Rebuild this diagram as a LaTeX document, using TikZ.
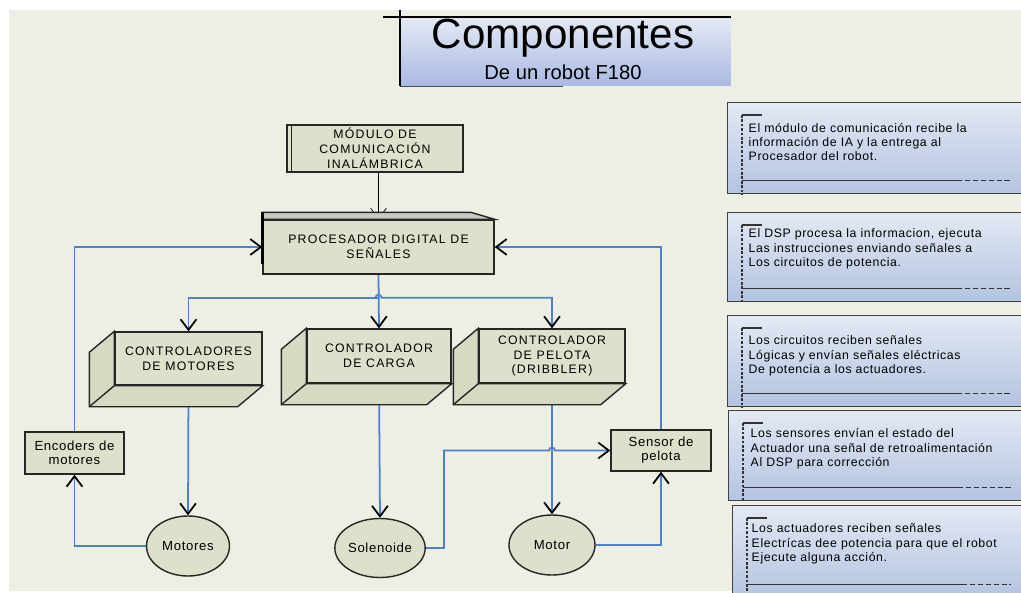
\documentclass[tikz,border=0pt]{standalone}
\usepackage{fontspec}
\setmainfont{Liberation Sans}
\newfontfamily\dgcaps{Liberation Sans}[LetterSpace=10]
\newfontfamily\dglow{Liberation Sans}[LetterSpace=5]
\usetikzlibrary{positioning, arrows.meta, shapes.geometric, calc, backgrounds}
\newlength{\pxu}\setlength{\pxu}{0.02cm}
\definecolor{fondo}{HTML}{EDEEE4}
\definecolor{caja}{HTML}{DEE0CB}
\definecolor{cajalado}{HTML}{D7DAC3}
\definecolor{losa}{HTML}{C9CAC4}
\definecolor{azulenlace}{HTML}{4F80CE}
\definecolor{azularriba}{HTML}{E3E9F4}
\definecolor{azulabajo}{HTML}{B3C3E1}
\tikzset{
  diagrama/.style={
	x=0.02cm, y=-0.02cm, % one unit is one pixel of the sketch
	line width=0.8pt,
  },
  flecha/.style={-{Straight Barb[length=6pt,width=9pt,color=black]}}, % open V heads
  enlace/.style={draw=azulenlace, line width=1pt, flecha}, % blue connectors
  bloque/.style={draw=black!85, fill=caja, inner sep=0pt, align=center,
	font=\dgcaps\fontsize{7}{8.5}\selectfont},
  lado/.style={draw=black!85, fill=cajalado},
  actuador/.style={ellipse, draw=black!85, fill=caja, inner sep=0pt,
	font=\dglow\fontsize{7.5}{9}\selectfont},
  medidor/.style={draw=black!85, fill=caja, inner sep=0pt, align=center,
	font=\dglow\fontsize{7.5}{8}\selectfont},
  nota/.style={draw=black!75, top color=azularriba, bottom color=azulabajo,
	inner sep=0pt, anchor=north west},
  notatexto/.style={anchor=west, inner sep=0pt, align=left,
	font=\dglow\fontsize{7}{8.2}\selectfont},
}
% side and bottom faces of the controller boxes
\newcommand{\extrusion}[1]{%
  \filldraw[lado] (#1.north west) -- ++(-25,21) |- ($(#1.south east)+(-25,21)$)
	-- (#1.south east) -- (#1.south west) -- cycle;
  \draw[lado] (#1.south west) -- ++(-25,21);}
% rules drawn inside the blue notes
\newcommand{\renglones}[1]{%
  \draw[black!80, line width=0.6pt] ($(#1.north west)+(15,13)$) -- ++(20,0);
  \draw[black!80, line width=0.6pt, dash pattern=on 1.5pt off 1pt]
	($(#1.north west)+(15,13)$) -- ($(#1.south west)+(15,0)$);
  \draw[black!80, line width=0.6pt] ($(#1.south west)+(15,-14)$) -- ($(#1.south west)+(230,-14)$);
  \draw[black!80, line width=0.6pt, dash pattern=on 3pt off 1.5pt]
	($(#1.south west)+(230,-14)$) -- ($(#1.south east)+(-11,-14)$);}

\begin{document}
\begin{tikzpicture}[diagrama]
  \useasboundingbox (0,0) rectangle (1021,592);

  % title
  \node[draw=none, top color=azularriba, bottom color=azulabajo!95!blue,
	minimum width=330\pxu, minimum height=68\pxu, anchor=north west] (titulo) at (400,17) {};
  \draw (titulo.north west) ++(-17,0) -- (titulo.north east);
  \draw (titulo.north west) ++(0,-7) -- (titulo.south west);
  \draw[black!70] (titulo.south west) -- ++(163,0);
  \node[font=\fontsize{24}{26}\selectfont] (nombre) at (563,38) {Componentes};
  \node[font=\fontsize{11.5}{13}\selectfont] (subnombre) at (563,72) {De un robot F180};

  % blocks
  \node[bloque, minimum width=176\pxu, minimum height=47\pxu] (modulo) at (375,148.5)
	{MÓDULO DE\\COMUNICACIÓN\\INALÁMBRICA};
  \draw[black!85] ($(modulo.north west)+(5,0)$) -- ($(modulo.south west)+(5,0)$);
  \node[bloque, minimum width=231\pxu, minimum height=54\pxu] (proc) at (378.5,247)
	{PROCESADOR DIGITAL DE\\SEÑALES};
  \filldraw[draw=black!85, fill=losa] (proc.north west) -- ++(0,-7)
	-- ($(proc.north east)+(-24,-7)$) -- (proc.north east) -- cycle;
  \draw[line width=1.6pt] ($(proc.north west)+(0,-7)$) -- ($(proc.south west)+(0,-11)$);

  \node[bloque, minimum width=147\pxu, minimum height=53\pxu] (ctrlmot) at (188.5,358.5)
	{CONTROLADORES\\DE MOTORES};
  \node[bloque, minimum width=144\pxu, minimum height=54\pxu] (ctrlcarga) at (379,356)
	{CONTROLADOR\\DE CARGA};
  \node[bloque, minimum width=146\pxu, minimum height=54\pxu] (ctrlpel) at (552,356)
	{CONTROLADOR\\DE PELOTA\\(DRIBBLER)};
  \extrusion{ctrlmot}
  \extrusion{ctrlcarga}
  \extrusion{ctrlpel}

  \node[medidor, minimum width=99\pxu, minimum height=42\pxu] (encoder) at (74.5,453)
	{Encoders de\\motores};
  \node[medidor, minimum width=100\pxu, minimum height=41\pxu] (sensor) at (661,450.5)
	{Sensor de\\pelota};
  \node[actuador, minimum width=83\pxu, minimum height=60\pxu] (motores) at (188,546) {Motores};
  \node[actuador, minimum width=85\pxu, minimum height=59\pxu] (solenoide) at (380,548) {Solenoide};
  \node[actuador, minimum width=86\pxu, minimum height=60\pxu] (motor) at (552,545) {Motor};

  % notes
  \node[nota, minimum width=294\pxu, minimum height=91\pxu] (nota1) at (727,102) {};
  \node[nota, minimum width=294\pxu, minimum height=89\pxu] (nota2) at (727,212) {};
  \node[nota, minimum width=294\pxu, minimum height=91\pxu] (nota3) at (727,315) {};
  \node[nota, minimum width=293\pxu, minimum height=90\pxu] (nota4) at (728,410) {};
  \node[nota, minimum width=289\pxu, minimum height=92\pxu] (nota5) at (732,505) {};
  \renglones{nota1}
  \renglones{nota2}
  \renglones{nota3}
  \renglones{nota4}
  \renglones{nota5}
  \node[notatexto] (texto1) at (748,142) {El módulo de comunicación recibe la\\información de IA y la entrega al\\Procesador del robot.};
  \node[notatexto] (texto2) at (748,249) {El DSP procesa la informacion, ejecuta\\Las instrucciones enviando señales a\\Los circuitos de potencia.};
  \node[notatexto] (texto3) at (748,356) {Los circuitos reciben señales\\Lógicas y envían señales eléctricas\\De potencia a los actuadores.};
  \node[notatexto] (texto4) at (750,449) {Los sensores envían el estado del\\Actuador una señal de retroalimentación\\Al DSP para corrección};
  \node[notatexto] (texto5) at (751,544) {Los actuadores reciben señales\\Electrícas dee potencia para que el robot\\Ejecute alguna acción.};

  \begin{scope}[on background layer]
	\fill[white] (0,0) rectangle (1021,592);
	\fill[fondo] (9,10) rectangle (1021,591);
	\draw[black, flecha] (modulo.south -| proc.north) -- (proc.north);
	\draw[enlace] (proc.south) -- (ctrlcarga.north);
	\draw[enlace] (proc.south) ++(0,23) -| (ctrlmot.north);
	\draw[enlace] (proc.south) ++(-3,23) arc[start angle=180, end angle=360, radius=3] -| (ctrlpel.north);
	\draw[enlace] (ctrlmot.south) -- (motores.north);
	\draw[enlace] (ctrlcarga.south) -- (solenoide.north);
	\draw[enlace] (ctrlpel.south) -- (motor.north);
	\draw[enlace] (motores.west) -| (encoder.south);
	\draw[enlace] (encoder.north) |- (proc.west);
	\draw[enlace] (solenoide.east) -- ++(18,0) |- ([xshift=-3\pxu]motor.north |- sensor.west)
	  arc[start angle=180, end angle=360, radius=3] -- (sensor.west);
	\draw[enlace] (motor.east) -| (sensor.south);
	\draw[enlace] (sensor.north) |- (proc.east);
  \end{scope}
\end{tikzpicture}
\end{document}
